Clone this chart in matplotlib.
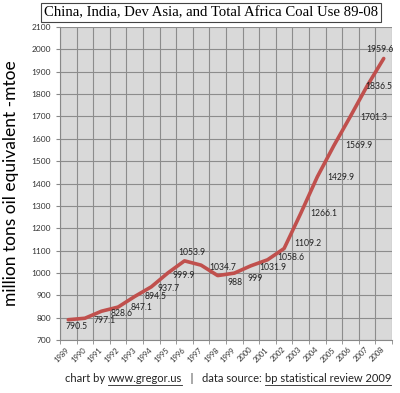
import matplotlib
matplotlib.use("Agg")
import matplotlib.pyplot as plt
import numpy as np

# coal use, China + India + Dev Asia + Total Africa (mtoe)
years = [str(y) for y in range(1989, 2009)]
coal = [790.5, 797.1, 828.6, 847.1, 894.5, 937.7, 999.9, 1053.9, 1034.7, 988,
        999, 1031.9, 1058.6, 1109.2, 1266.1, 1429.9, 1569.9, 1701.3, 1836.5, 1959.6]
labels = ["790.5", "797.1", "828.6", "847.1", "894.5", "937.7", "999.9", "1053.9",
          "1034.7", "988", "999", "1031.9", "1058.6", "1109.2", "1266.1", "1429.9",
          "1569.9", "1701.3", "1836.5", "1959.6"]

# label offsets in pixels (dx, dy)
offs = [(8, -7), (20, -2), (20, -2), (23, 0), (21, 0), (17, -2), (16, -3), (7, 8),
        (22, -2), (17, -7), (21, -5), (22, -2), (23, 2), (24, 5), (23, 0), (24, -1),
        (25, 0), (23, -1), (12, -1), (-4, 9)]

plt.rcParams['font.family'] = ['Lato', 'DejaVu Sans']

fig = plt.figure(figsize=(4.0, 3.93), dpi=100)
ax = fig.add_axes([0.15, 0.135, 0.83, 0.796])
ax.set_facecolor('#d9d9d9')

x = np.arange(len(years))
ax.plot(x, coal, color='#c0504d', lw=2.6, solid_capstyle='round', zorder=3)

for xi, v, lab, (dx, dy) in zip(x, coal, labels, offs):
    ax.annotate(lab, (xi, v), xytext=(dx, dy), textcoords='offset pixels',
                ha='center', va='center', fontsize=6.2, color='#222222', zorder=4)

ax.set_xlim(-0.5, len(years) - 0.5)
ax.set_ylim(700, 2100)
ax.set_yticks(range(700, 2101, 100))
ax.set_xticks(x)
ax.set_xticklabels(years, rotation=45, fontsize=5.5, ha='right', va='center',
                   rotation_mode='anchor', color='#333333')
ax.set_xticks(np.arange(-0.5, len(years), 1), minor=True)
ax.tick_params(axis='y', labelsize=6, length=3, color='#888888', labelcolor='#333333')
ax.tick_params(axis='x', which='major', length=0, pad=6)
ax.tick_params(axis='x', which='minor', length=3, color='#888888')
ax.grid(True, axis='y', color='#8c8c8c', lw=0.8)
ax.grid(True, axis='x', which='minor', color='#8c8c8c', lw=0.8)
ax.set_axisbelow(True)
for s in ['top', 'right']:
    ax.spines[s].set_visible(False)
for s in ['left', 'bottom']:
    ax.spines[s].set_color('#888888')

ax.set_ylabel('million tons oil equivalent -mtoe', fontsize=12.5, labelpad=9)

fig.text(0.527, 0.968, 'China, India, Dev Asia, and Total Africa Coal Use 89-08',
         ha='center', va='center', fontsize=10.6, family='Liberation Serif',
         bbox=dict(boxstyle='square,pad=0.2', fc='white', ec='#444444', lw=0.8))

# footer with underlined links
parts = [('chart by ', False), ('www.gregor.us', True), ('   |   data source: ', False),
         ('bp statistical review 2009', True)]
fig.canvas.draw()
r = fig.canvas.get_renderer()
texts = []
xpos = 0
for s, u in parts:
    t = fig.text(0, 0.028, s, fontsize=8, color='#222222', ha='left', va='baseline')
    w = t.get_window_extent(r).width
    texts.append((t, u, xpos, w))
    xpos += w
start = 228 - xpos / 2
for t, u, xo, w in texts:
    t.set_x((start + xo) / 400)
    if u:
        fig.add_artist(plt.Line2D([(start + xo) / 400, (start + xo + w) / 400],
                                  [0.021, 0.021], color='#222222', lw=0.6))

fig.savefig('out.png', dpi=100)
